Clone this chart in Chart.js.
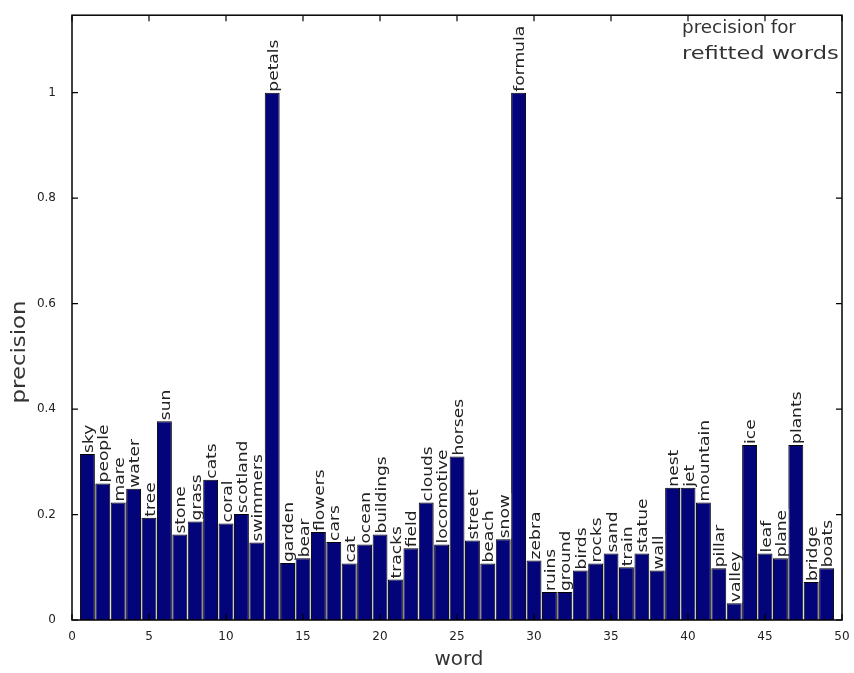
<!DOCTYPE html>
<html lang="en">
<head>
	<meta charset="utf-8">
	<title>precision for refitted words</title>
	<script src="https://cdn.jsdelivr.net/npm/chart.js"></script>
	<style>
		body { margin: 0; background: #fff; }
		#wrap { width: 854px; height: 673px; position: relative; }
	</style>
</head>
<body>
	<div id="wrap"><canvas id="chart"></canvas></div>
	<script>
		// words, left to right (word index 1..49)
		const words = ["sky", "people", "mare", "water", "tree", "sun", "stone", "grass", "cats", "coral",
			"scotland", "swimmers", "petals", "garden", "bear", "flowers", "cars", "cat", "ocean", "buildings",
			"tracks", "field", "clouds", "locomotive", "horses", "street", "beach", "snow", "formula", "zebra",
			"ruins", "ground", "birds", "rocks", "sand", "train", "statue", "wall", "nest", "jet",
			"mountain", "pillar", "valley", "ice", "leaf", "plane", "plants", "bridge", "boats"]

		const precision = [0.315, 0.259, 0.223, 0.249, 0.194, 0.377, 0.162, 0.187, 0.266, 0.183,
			0.201, 0.147, 1.0, 0.108, 0.117, 0.167, 0.148, 0.107, 0.143, 0.162,
			0.077, 0.136, 0.223, 0.143, 0.310, 0.151, 0.107, 0.153, 1.0, 0.113,
			0.053, 0.053, 0.094, 0.107, 0.126, 0.100, 0.126, 0.094, 0.251, 0.251,
			0.223, 0.098, 0.032, 0.332, 0.126, 0.117, 0.332, 0.072, 0.098]

		const yTicks = [0, 0.2, 0.4, 0.6, 0.8, 1]
		const xTicks = [0, 5, 10, 15, 20, 25, 30, 35, 40, 45, 50]
		const titleLines = ["precision for", "refitted words"]

		const barData = words.map((w, i) => ({ x: i + 1, y: precision[i] }))

		// wide text (the original font is a wide geometric sans)
		function wideText(ctx, txt, x, y, angle, stretch) {
			ctx.save()
			ctx.translate(x, y)
			ctx.rotate(angle)
			ctx.scale(stretch, 1)
			ctx.fillText(txt, 0, 0)
			ctx.restore()
		}

		// box, inward ticks, word labels and titles
		const extras = {
			id: 'extras',
			afterDatasetsDraw(chart) {
				const ctx = chart.ctx
				const a = chart.chartArea
				const xs = chart.scales.x, ys = chart.scales.y
				ctx.save()

				// word labels, rotated, starting at the bar top
				ctx.font = '14px "DejaVu Sans"'
				ctx.textBaseline = 'middle'
				ctx.textAlign = 'left'
				words.forEach((w, i) => {
					const px = xs.getPixelForValue(i + 1) + 1
					const py = ys.getPixelForValue(precision[i]) - 1
					const tw = ctx.measureText(w).width
					ctx.save()
					ctx.translate(px, py)
					ctx.rotate(-Math.PI / 2)
					ctx.scale(1.22, 1)
					ctx.fillStyle = 'rgba(255,255,255,0.92)'
					ctx.fillRect(0, -7, tw + 1, 14)
					ctx.fillStyle = '#222'
					ctx.fillText(w, 0, 1)
					ctx.restore()
				})

				// plot box
				ctx.strokeStyle = '#000'
				ctx.lineWidth = 1.5
				ctx.strokeRect(a.left, a.top, a.right - a.left, a.bottom - a.top)

				// ticks pointing inward on all four sides
				ctx.lineWidth = 1.2
				ctx.beginPath()
				xTicks.forEach(v => {
					const x = xs.getPixelForValue(v)
					ctx.moveTo(x, a.bottom); ctx.lineTo(x, a.bottom - 6)
					ctx.moveTo(x, a.top); ctx.lineTo(x, a.top + 6)
				})
				yTicks.forEach(v => {
					const y = ys.getPixelForValue(v)
					ctx.moveTo(a.left, y); ctx.lineTo(a.left + 6, y)
					ctx.moveTo(a.right, y); ctx.lineTo(a.right - 6, y)
				})
				ctx.stroke()

				// text block in the top right corner
				ctx.fillStyle = '#333'
				ctx.font = '18px "DejaVu Sans"'
				ctx.textAlign = 'left'
				ctx.textBaseline = 'alphabetic'
				wideText(ctx, titleLines[0], 682, 33, 0, 1.02)
				wideText(ctx, titleLines[1], 682, 59, 0, 1.25)

				// axis titles
				ctx.textAlign = 'center'
				ctx.textBaseline = 'middle'
				ctx.font = '19px "DejaVu Sans"'
				wideText(ctx, 'word', (a.left + a.right) / 2 + 2, 660, 0, 1.05)
				wideText(ctx, 'precision', 20, 352, -Math.PI / 2, 1.2)

				ctx.restore()
			}
		}

		new Chart(document.getElementById('chart'), {
			type: 'bar',
			data: {
				datasets: [{
					label: 'precision',
					data: barData,
					backgroundColor: 'rgb(4,4,122)',
					borderColor: '#000',
					borderWidth: 1,
					barPercentage: 0.97,
					categoryPercentage: 1
				}]
			},
			options: {
				responsive: true,
				maintainAspectRatio: false,
				animation: false,
				layout: { padding: { top: 12, right: 12, left: 0, bottom: 0 } },
				plugins: {
					legend: { display: false },
					tooltip: { enabled: false }
				},
				scales: {
					x: {
						type: 'linear',
						min: 0,
						max: 50,
						offset: false,
						grid: { display: false, offset: false },
						border: { display: false },
						afterFit: s => { s.height = 53 },
						afterBuildTicks: s => { s.ticks = xTicks.map(v => ({ value: v })) },
						ticks: { color: '#222', font: { size: 12, family: 'DejaVu Sans' }, padding: 2, maxRotation: 0 }
					},
					y: {
						min: 0,
						max: 1.147,
						grid: { display: false },
						border: { display: false },
						afterFit: s => { s.width = 72 },
						afterBuildTicks: s => { s.ticks = yTicks.map(v => ({ value: v })) },
						ticks: {
							color: '#222', font: { size: 12, family: 'DejaVu Sans' }, padding: 8,
							callback: v => String(v)
						}
					}
				}
			},
			plugins: [extras]
		})
	</script>
</body>
</html>
